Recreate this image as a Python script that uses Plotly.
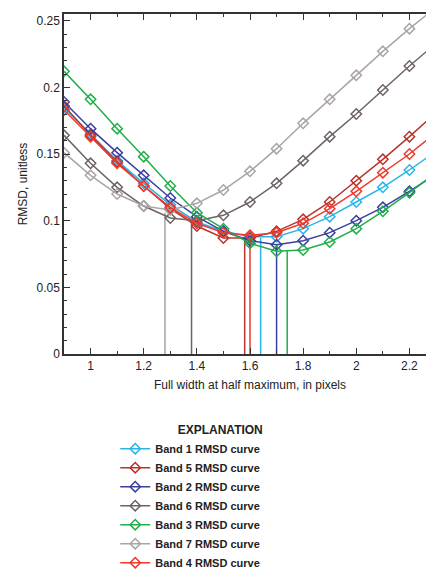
import plotly.graph_objects as go

fwhm = [0.9, 1.0, 1.1, 1.2, 1.3, 1.4, 1.5, 1.6, 1.7, 1.8, 1.9, 2.0, 2.1, 2.2, 2.3]

band1 = [0.185, 0.165, 0.145, 0.128, 0.112, 0.099, 0.092, 0.088, 0.088, 0.094, 0.103, 0.114, 0.125, 0.138, 0.152]
band2 = [0.189, 0.169, 0.151, 0.134, 0.117, 0.103, 0.092, 0.085, 0.082, 0.085, 0.091, 0.100, 0.110, 0.122, 0.135]
band3 = [0.212, 0.191, 0.169, 0.148, 0.126, 0.106, 0.094, 0.083, 0.077, 0.078, 0.084, 0.094, 0.107, 0.121, 0.136]
band4 = [0.183, 0.163, 0.143, 0.126, 0.110, 0.098, 0.091, 0.089, 0.091, 0.098, 0.109, 0.122, 0.136, 0.150, 0.166]
band5 = [0.186, 0.164, 0.144, 0.126, 0.109, 0.096, 0.087, 0.087, 0.092, 0.101, 0.114, 0.130, 0.146, 0.163, 0.181]
band6 = [0.164, 0.143, 0.125, 0.111, 0.102, 0.100, 0.104, 0.114, 0.128, 0.145, 0.163, 0.180, 0.198, 0.216, 0.233]
band7 = [0.151, 0.134, 0.120, 0.111, 0.108, 0.113, 0.123, 0.137, 0.154, 0.173, 0.191, 0.209, 0.227, 0.244, 0.260]

# minimum locations (x, rmsd) for the drop lines
min_x = [1.64, 1.70, 1.74, 1.60, 1.58, 1.38, 1.28]
min_y = [0.087, 0.082, 0.077, 0.088, 0.086, 0.100, 0.106]

names = ["Band 1 RMSD curve", "Band 2 RMSD curve", "Band 3 RMSD curve", "Band 4 RMSD curve",
         "Band 5 RMSD curve", "Band 6 RMSD curve", "Band 7 RMSD curve"]
colors = ["#29b5e8", "#3b3f9e", "#1fae4a", "#f0392b", "#b8342c", "#6e6363", "#aaa4a4"]
series = [band1, band2, band3, band4, band5, band6, band7]

fig = go.Figure()

# drop lines first so curves draw on top
for i in range(7):
    fig.add_trace(go.Scatter(
        x=[min_x[i], min_x[i]], y=[0, min_y[i]], mode="lines",
        line=dict(color=colors[i], width=1.5), showlegend=False, hoverinfo="skip"
    ))

# legend reads row-wise: 1,5 / 2,6 / 3,7 / 4
for i in [0, 4, 1, 5, 2, 6, 3]:
    fig.add_trace(go.Scatter(
        x=fwhm, y=series[i], name="<b>" + names[i] + "</b>", mode="lines+markers",
        line=dict(color=colors[i], width=1.5),
        marker=dict(symbol="diamond-open", size=8, color=colors[i], line=dict(width=1.5))
    ))

axis_common = dict(
    showline=True, linecolor="#333", linewidth=1.5, mirror="ticks",
    ticks="inside", ticklen=6, tickcolor="#333", showgrid=False, zeroline=False,
    minor=dict(ticks="inside", ticklen=3, tickcolor="#333"),
    tickfont=dict(size=12, color="#222")
)

fig.update_layout(
    width=434, height=574,
    margin=dict(l=56, r=4, t=5, b=186),
    plot_bgcolor="white", paper_bgcolor="white",
    font=dict(family="Liberation Sans, Arial, sans-serif", color="#222"),
    xaxis=dict(range=[0.9, 2.3], dtick=0.2, tick0=1.0,
               title=dict(text="Full width at half maximum, in pixels", font=dict(size=12), standoff=8),
               **axis_common),
    yaxis=dict(range=[0, 0.255], dtick=0.05,
               title=dict(text="RMSD, unitless", font=dict(size=12), standoff=6),
               **axis_common),
    legend=dict(
        orientation="h", x=0.42, xanchor="center", y=-0.19, yanchor="top",
        entrywidth=165, entrywidthmode="pixels",
        title=dict(text="<b>EXPLANATION</b>", side="top center", font=dict(size=12)),
        font=dict(size=11), tracegroupgap=0, itemwidth=30
    ),
)
fig.update_xaxes(minor=dict(dtick=0.1, tick0=1.0))
fig.update_yaxes(minor=dict(dtick=0.01))

fig.write_html("out.html")
